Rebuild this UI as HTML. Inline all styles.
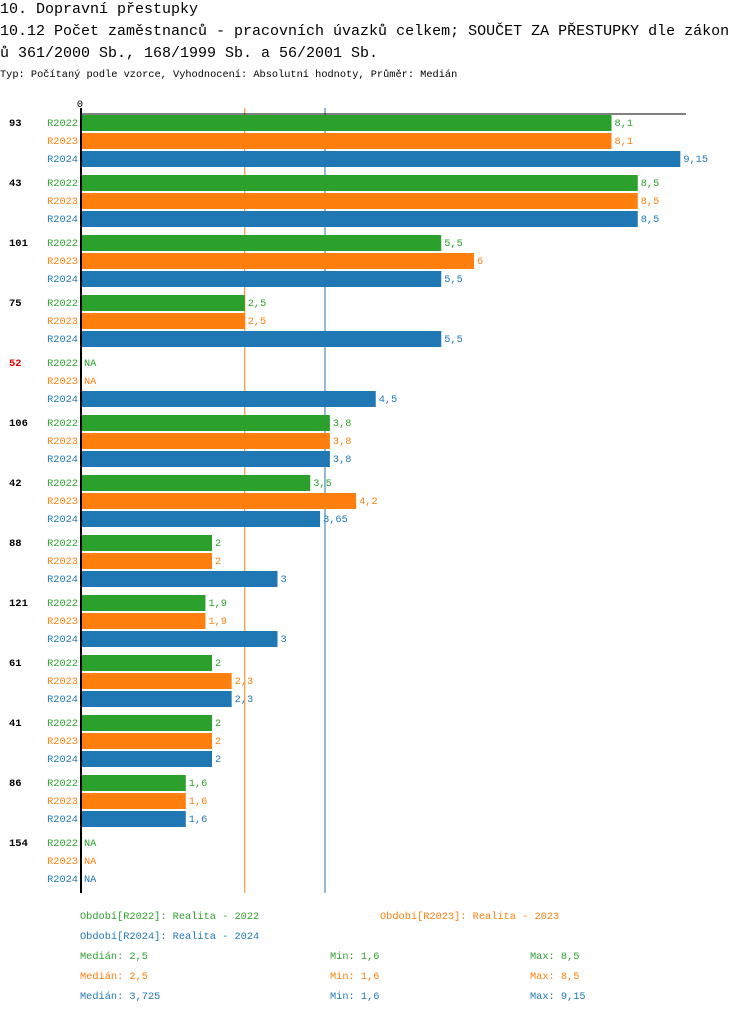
<!DOCTYPE html>
<html><head><meta charset="utf-8"><style>
body{margin:0;background:#fff;width:750px;height:1014px;overflow:hidden;font-family:"Liberation Mono",monospace}
svg text{font-family:"Liberation Mono",monospace}
</style></head><body>
<svg id="c" width="750" height="1014" xmlns="http://www.w3.org/2000/svg">
<text x="0" y="13" font-size="15">10. Dopravní přestupky</text>
<text x="0" y="35" font-size="15">10.12 Počet zaměstnanců - pracovních úvazků celkem; SOUČET ZA PŘESTUPKY dle zákon</text>
<text x="0" y="57" font-size="15">ů 361/2000 Sb., 168/1999 Sb. a 56/2001 Sb.</text>
<text x="0" y="77" font-size="10.3">Typ: Počítaný podle vzorce, Vyhodnocení: Absolutní hodnoty, Průměr: Medián</text>
<text x="80" y="107" font-size="10.3" text-anchor="middle">0</text>
<g id="bars"></g>
<line x1="81" y1="114" x2="686" y2="114" stroke="#000" stroke-width="1"/>
<line x1="81" y1="108" x2="81" y2="893" stroke="#000" stroke-width="2"/>
<g font-size="10.3">
<text x="80" y="919" fill="#2ca02c">Období[R2022]: Realita - 2022</text>
<text x="380" y="919" fill="#ff7f0e">Období[R2023]: Realita - 2023</text>
<text x="80" y="939" fill="#1f77b4">Období[R2024]: Realita - 2024</text>
<text x="80" y="959" fill="#2ca02c">Medián: 2,5</text>
<text x="330" y="959" fill="#2ca02c">Min: 1,6</text>
<text x="530" y="959" fill="#2ca02c">Max: 8,5</text>
<text x="80" y="979" fill="#ff7f0e">Medián: 2,5</text>
<text x="330" y="979" fill="#ff7f0e">Min: 1,6</text>
<text x="530" y="979" fill="#ff7f0e">Max: 8,5</text>
<text x="80" y="999" fill="#1f77b4">Medián: 3,725</text>
<text x="330" y="999" fill="#1f77b4">Min: 1,6</text>
<text x="530" y="999" fill="#1f77b4">Max: 9,15</text>
</g>
</svg>
<script>
const categories=["93","43","101","75","52","106","42","88","121","61","41","86","154"];
const series=["R2022","R2023","R2024"];
const r2022=[8.1,8.5,5.5,2.5,null,3.8,3.5,2,1.9,2,2,1.6,null];
const r2023=[8.1,8.5,6,2.5,null,3.8,4.2,2,1.9,2.3,2,1.6,null];
const r2024=[9.15,8.5,5.5,5.5,4.5,3.8,3.65,3,3,2.3,2,1.6,null];
const medians=[2.5,3.725];
const colors=["#2ca02c","#ff7f0e","#1f77b4"];
const NS="http://www.w3.org/2000/svg";
const g=document.getElementById("bars");
const X0=81,SC=65.5;
const xs=v=>X0+v*SC;
const data=[r2022,r2023,r2024];
function mk(t,a){const e=document.createElementNS(NS,t);for(const k in a)e.setAttribute(k,a[k]);g.appendChild(e);return e;}
function fmt(v){return String(v).replace('.',',');}
medians.forEach((m,i)=>{
  const l=mk("line",{x1:xs(m),y1:108,x2:xs(m),y2:893,stroke:colors[i+1],"stroke-width":1});
  
  
});
categories.forEach((c,ci)=>{
  const y0=115+60*ci;
  const lab=mk("text",{x:9,y:y0+11,"font-size":"10.5","font-weight":"bold",fill:c==="52"?"#e00000":"#000"});
  lab.textContent=c;
  
  
  series.forEach((s,si)=>{
    const y=y0+18*si;const v=data[si][ci];
    const sl=mk("text",{x:78,y:y+11,"font-size":"10.3","text-anchor":"end",fill:colors[si]});
    sl.textContent=s;
    
    
    let tx=84;
    if(v!==null){
      const r=mk("rect",{x:X0,y:y,width:xs(v)-X0,height:16,fill:colors[si]});
      
      
      tx=xs(v)+3;
    }
    const vl=mk("text",{x:tx,y:y+11,"font-size":"10.3",fill:colors[si]});
    vl.textContent=v===null?"NA":fmt(v);
    
    
  });
});
</script>
</body></html>
